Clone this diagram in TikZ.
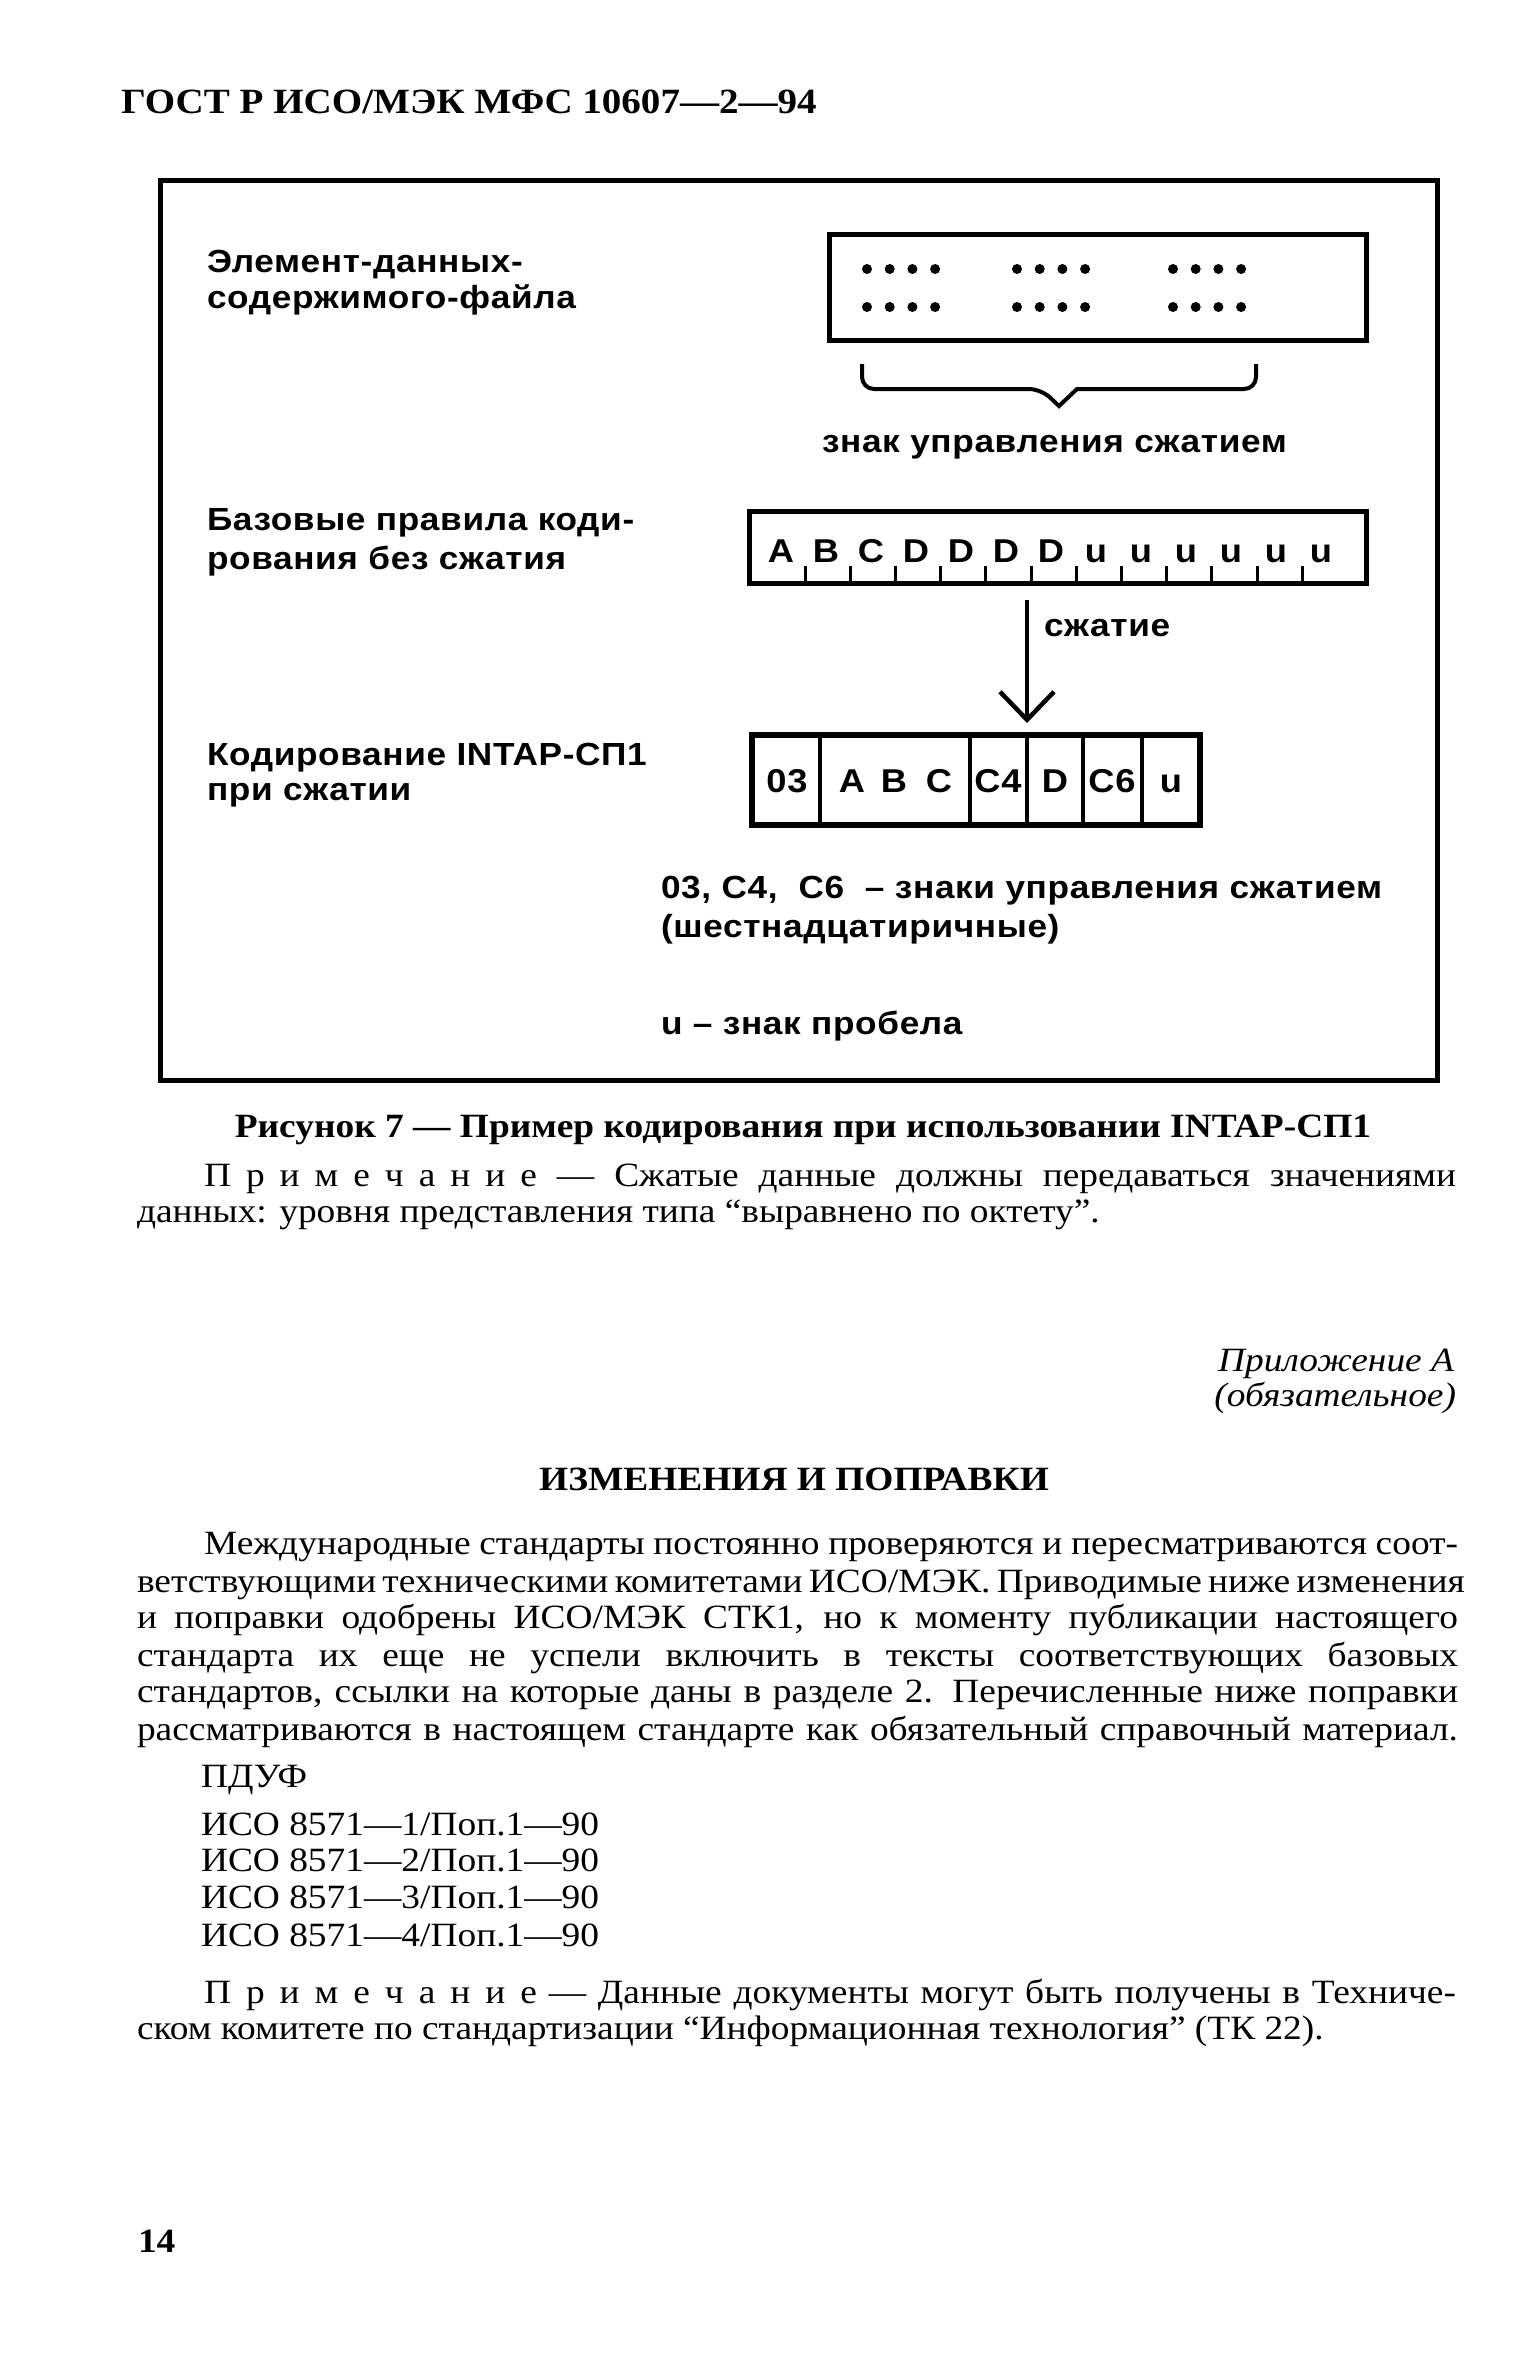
\documentclass[tikz,border=0pt]{standalone}
\usepackage{fontspec}
\setmainfont{Liberation Serif}[FakeStretch=1.1]
\newfontfamily\figfont{Liberation Sans}[FakeStretch=1.1,LetterSpace=2]
\usetikzlibrary{arrows.meta}
\newcommand\lsk{\kern15pt}
\newcommand\prim{П\lsk р\lsk и\lsk м\lsk е\lsk ч\lsk а\lsk н\lsk и\lsk е}
\begin{document}
\begin{tikzpicture}[x=1pt,y=-1pt,
  lab/.style={font=\figfont\bfseries\fontsize{32}{38}\selectfont, inner sep=0pt, outer sep=0pt, anchor=base west},
  cell/.style={font=\figfont\bfseries\fontsize{33}{38}\selectfont, inner sep=0pt, outer sep=0pt, anchor=base},
  bd/.style={font=\fontsize{34}{37}\selectfont, inner sep=0pt, outer sep=0pt, anchor=base west},
  bdb/.style={bd, font=\bfseries\fontsize{34}{37}\selectfont},
  box/.style={draw, line width=5pt, inner sep=0pt, outer sep=0pt, anchor=north west},
  thin/.style={line width=3pt},
  med/.style={line width=4.5pt}]
\useasboundingbox (0,0) rectangle (1533,2372);
\fill[white] (0,0) rectangle (1533,2372);

% header
\node[bdb, font=\bfseries\fontsize{35.5}{38}\selectfont] (hdr) at (121,113) {ГОСТ Р ИСО/МЭК МФС 10607—2—94};

% figure frame and boxes
\node[box, minimum width=1277pt, minimum height=900pt] (frame) at (160,180) {};
\node[box, minimum width=537pt, minimum height=106pt] (b1) at (829,234) {};
\node[box, minimum width=617pt, minimum height=72pt] (b2) at (749,511) {};
\node[box, line width=6pt, minimum width=448pt, minimum height=90pt] (b3) at (752,735) {};

% left labels
\node[lab] (e1) at (207,272) {Элемент-данных-};
\node[lab] (e2) at (207,308) {содержимого-файла};
\node[lab] (bz1) at (207,530) {Базовые правила коди-};
\node[lab] (bz2) at (207,569) {рования без сжатия};
\node[lab] (kd1) at (207,765) {Кодирование INTAP-СП1};
\node[lab] (kd2) at (207,800) {при сжатии};

% dots in box 1
\foreach \gx in {867,1017,1173}
  \foreach \i in {0,...,3}
    \foreach \ry in {269,307}
      \fill (\gx+22.7*\i,\ry) circle[radius=5pt];

% brace
\draw[line width=4pt] (862,364) [rounded corners=12pt] -- (862,389) -- (1041,389) [sharp corners] -- (1059,406) -- (1077,389) [rounded corners=12pt] -- (1256,389) -- (1256,364);
\node[lab] (zn) at (822,452) {знак управления сжатием};

% box 2 letters and ticks
\foreach \c [count=\i from 0] in {A,B,C,D,D,D,D,u,u,u,u,u,u}
  \node[cell] (l\i) at (781+45*\i,562) {\c};
\foreach \i in {0,...,11}
  \draw[thin] (805+45.2*\i,583) -- ++(0,-17);

% arrow
\coordinate (ax) at (1027,0);
\draw[med, shorten <=17pt, shorten >=12pt, -{Straight Barb[length=28pt,width=54pt]}] (b2.south -| ax) -- (b3.north -| ax);
\node[lab] (sz) at (1044,636) {сжатие};

% box 3 cells
\foreach \x in {820,970,1027,1083,1142}
  \draw[med] (\x,735) -- (\x,825);
\node[cell] (c1) at (787,792) {03};
\node[cell] (c2) at (852,792) {A};
\node[cell] (c3) at (894,792) {B};
\node[cell] (c4) at (939,792) {C};
\node[cell] (c5) at (998,792) {C4};
\node[cell] (c6) at (1055,792) {D};
\node[cell] (c7) at (1112,792) {C6};
\node[cell] (c8) at (1171,792) {u};

% legend
\node[lab] (lg1) at (661,898) {03, C4,\ \ C6\ \ – знаки управления сжатием};
\node[lab] (lg2) at (661,937) {(шестнадцатиричные)};
\node[lab] (lg3) at (661,1034) {u – знак пробела};

% caption and note
\node[bdb, anchor=base] (cap) at (803,1137) {Рисунок 7 — Пример кодирования при использовании INTAP-СП1};
\node[bd] (n1a) at (204,1186) {\makebox[1252pt][s]{\prim\ — Сжатые данные должны передаваться значениями}};
\node[bd] (n1b) at (137,1222) {данных: уровня представления типа “выравнено по октету”.};

% appendix
\node[bd, anchor=base east, font=\itshape\fontsize{34}{37}\selectfont] (pa) at (1454,1371) {Приложение А};
\node[bd, anchor=base east, font=\itshape\fontsize{34}{37}\selectfont] (pb) at (1456,1406) {(обязательное)};
\node[bdb, anchor=base] (ttl) at (794,1490) {ИЗМЕНЕНИЯ И ПОПРАВКИ};

\node[bd] (p1) at (204,1554) {\makebox[1254pt][s]{Международные стандарты постоянно проверяются и пересматриваются соот-}};
\node[bd] (p2) at (137,1592) {\makebox[1321pt][s]{ветствующими техническими комитетами ИСО/МЭК. Приводимые ниже изменения}};
\node[bd] (p3) at (137,1628) {\makebox[1321pt][s]{и поправки одобрены ИСО/МЭК СТК1, но к моменту публикации настоящего}};
\node[bd] (p4) at (137,1666) {\makebox[1321pt][s]{стандарта их еще не успели включить в тексты соответствующих базовых}};
\node[bd] (p5) at (137,1702) {\makebox[1321pt][s]{стандартов, ссылки на которые даны в разделе 2. Перечисленные ниже поправки}};
\node[bd] (p6) at (137,1740) {\makebox[1321pt][s]{рассматриваются в настоящем стандарте как обязательный справочный материал.}};

\node[bd] (pd) at (201,1787) {ПДУФ};
\node[bd] (i1) at (201,1835) {ИСО 8571—1/Поп.1—90};
\node[bd] (i2) at (201,1871) {ИСО 8571—2/Поп.1—90};
\node[bd] (i3) at (201,1908) {ИСО 8571—3/Поп.1—90};
\node[bd] (i4) at (201,1946) {ИСО 8571—4/Поп.1—90};

\node[bd] (n2a) at (204,2003) {\makebox[1252pt][s]{\prim\ — Данные документы могут быть получены в Техниче-}};
\node[bd] (n2b) at (137,2039) {ском комитете по стандартизации “Информационная технология” (ТК 22).};

\node[bdb] (pg) at (138,2252) {14};
\end{tikzpicture}
\end{document}
